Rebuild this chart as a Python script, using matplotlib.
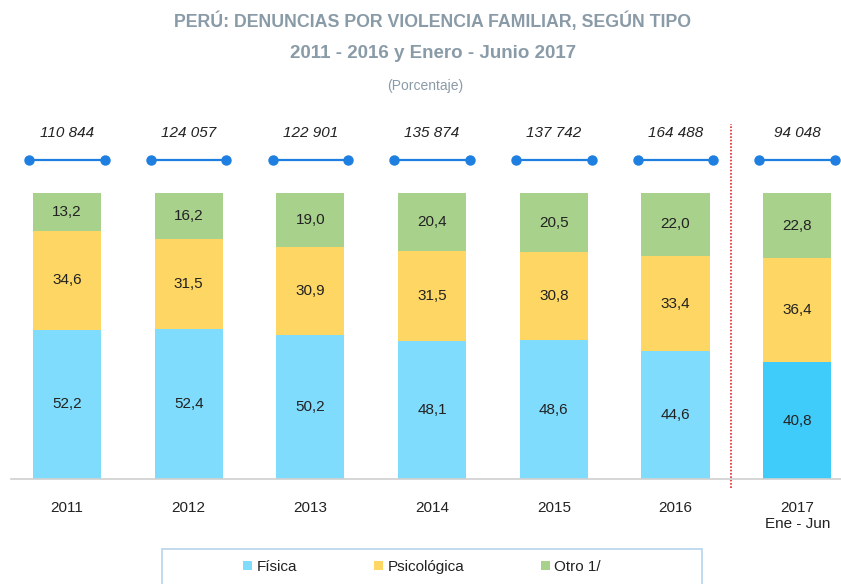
import matplotlib
matplotlib.use("Agg")
from matplotlib import pyplot as plt
from matplotlib.patches import Rectangle
import numpy as np

years = ["2011", "2012", "2013", "2014", "2015", "2016", "2017\nEne - Jun"]
fisica = [52.2, 52.4, 50.2, 48.1, 48.6, 44.6, 40.8]
psicologica = [34.6, 31.5, 30.9, 31.5, 30.8, 33.4, 36.4]
otro = [13.2, 16.2, 19.0, 20.4, 20.5, 22.0, 22.8]
totales = ["110 844", "124 057", "122 901", "135 874", "137 742", "164 488", "94 048"]

plt.rcParams["font.family"] = ["Liberation Sans", "DejaVu Sans"]

c_fis = "#80dcfd"
c_fis17 = "#40ccfb"
c_psi = "#fdd663"
c_otr = "#a8d18c"
title_col = "#8a9ba8"
txt_col = "#222222"

fig = plt.figure(figsize=(8.41, 5.84), dpi=100)
W, H = 841, 584
# axes: baseline at y=479px, left at 11px
top_px = 115
ax = fig.add_axes([11 / W, 1 - 479 / H, (W - 11) / W, (479 - top_px) / H])

x = np.arange(len(years))
width = 0.56
fis_colors = [c_fis] * 6 + [c_fis17]

ax.bar(x, fisica, width, color=fis_colors, label="Física")
ax.bar(x, psicologica, width, bottom=fisica, color=c_psi, label="Psicológica")
bottom2 = np.array(fisica) + np.array(psicologica)
ax.bar(x, otro, width, bottom=bottom2, color=c_otr, label="Otro 1/")

for i in range(len(x)):
    ax.text(x[i], fisica[i] / 2, f"{fisica[i]:.1f}".replace(".", ","),
            ha="center", va="center", fontsize=11, color=txt_col)
    ax.text(x[i], fisica[i] + psicologica[i] / 2, f"{psicologica[i]:.1f}".replace(".", ","),
            ha="center", va="center", fontsize=11, color=txt_col)
    ax.text(x[i], bottom2[i] + otro[i] / 2, f"{otro[i]:.1f}".replace(".", ","),
            ha="center", va="center", fontsize=11, color=txt_col)
    # total bracket
    ax.plot([x[i] - 0.31, x[i] + 0.31], [111.5, 111.5], color="#1f7fe0",
            lw=1.6, marker="o", markersize=6.5, clip_on=False)
    ax.text(x[i], 118.5, totales[i], ha="center", va="bottom", fontsize=11,
            style="italic", color=txt_col)

# separator before 2017
ax.plot([5.46, 5.46], [-3, 124], color="#e8262a", lw=1.2, ls=(0, (1, 1)),
        clip_on=False)

px_per = (479 - 193) / 100.0
ax.set_xlim((11 - 67) / 121.7, (W - 67) / 121.7)
ax.set_ylim(0, (479 - top_px) / px_per)

ax.set_xticks(x)
ax.set_xticklabels(years, fontsize=11, color=txt_col)
ax.tick_params(axis="x", length=0, pad=16)
ax.set_yticks([])
for s in ["top", "left", "right"]:
    ax.spines[s].set_visible(False)
ax.spines["bottom"].set_color("#d0d0d0")
ax.spines["bottom"].set_linewidth(1.2)

# titles
fig.text(433 / W, 1 - 21 / H, "PERÚ: DENUNCIAS POR VIOLENCIA FAMILIAR, SEGÚN TIPO",
         ha="center", va="center", fontsize=12.8, fontweight="bold", color=title_col)
fig.text(433 / W, 1 - 53 / H, "2011 - 2016 y Enero - Junio 2017",
         ha="center", va="center", fontsize=13.5, fontweight="bold", color=title_col)
fig.text(425 / W, 1 - 86 / H, "(Porcentaje)", ha="center", va="center",
         fontsize=10, color=title_col)

# legend box
fig.patches.append(Rectangle((162 / W, 1 - 600 / H), (702 - 162) / W, (600 - 549) / H,
                             transform=fig.transFigure, facecolor="white",
                             edgecolor="#b8d4ec", lw=1.2))
fig.legend(loc="center", bbox_to_anchor=(422 / W, 1 - 567 / H), ncol=3,
           frameon=False, fontsize=11, handlelength=0.6, handleheight=0.6,
           handletextpad=0.3, columnspacing=5.0, labelcolor=txt_col)

fig.savefig("out.png", dpi=100)
